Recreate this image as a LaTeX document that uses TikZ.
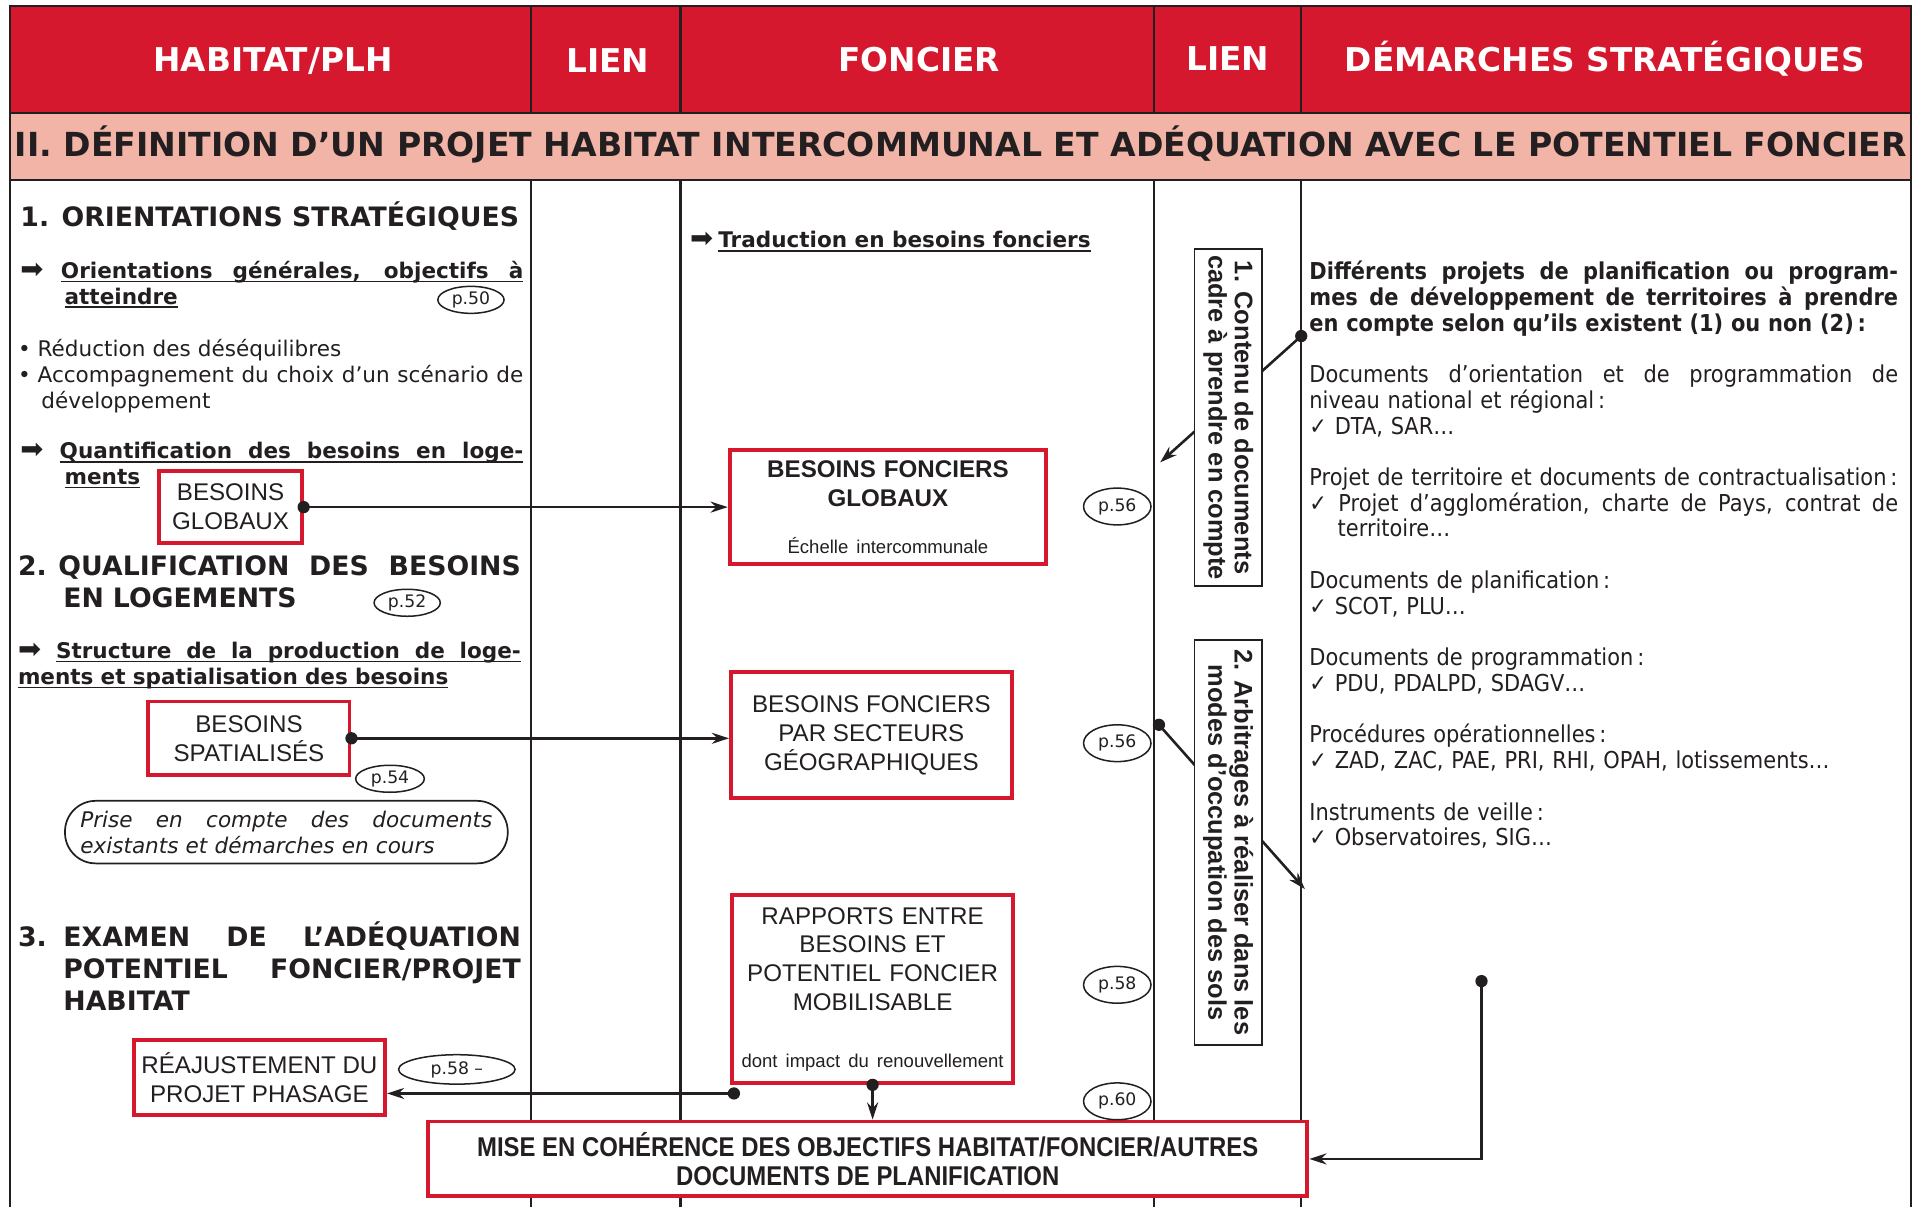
\documentclass[tikz,border=0pt]{standalone}
\usepackage{fontspec}
\usepackage{xcolor}
\usepackage{tikz}
\usetikzlibrary{arrows.meta,shapes.geometric}
\setmainfont{DejaVu Sans}
\newfontfamily\verdana{DejaVu Sans}
\newfontfamily\tahoma{DejaVu Sans}[FakeStretch=0.9]
\newfontfamily\arial{Liberation Sans}
\newfontfamily\arialnarrow{Liberation Sans}[FakeStretch=0.88]
\definecolor{HdRed}{HTML}{D6182E}
\definecolor{TitlePink}{HTML}{F1B4A7}
\definecolor{Ink}{HTML}{231F20}
\newcommand{\undl}[1]{\leavevmode\setbox0\hbox{#1}\rlap{\rule[-0.9pt]{\wd0}{0.4pt}}\box0}
\newcommand{\sline}[2]{\makebox[#1][s]{\spaceskip=0pt\xspaceskip=0pt #2}}
\newcommand{\arrowglyph}{{\verdana\mdseries\fontsize{6.4}{6}\selectfont ➡}}
\tikzset{
  frameline/.style={draw=Ink, line width=0.55pt},
  hdtext/.style={anchor=base, text=white, inner sep=0pt, font=\verdana\bfseries\fontsize{7.6}{9}\selectfont},
  bodytext/.style={anchor=base west, inner sep=0pt, text=Ink, align=left},
  redbox/.style={draw=HdRed, line width=0.9pt, fill=white, inner sep=0pt, align=center, text=Ink, font=\arial\fontsize{5.6}{6.7}\selectfont},
  pageoval/.style={draw=Ink, ellipse, line width=0.35pt, inner sep=0pt, text=Ink, font=\verdana\fontsize{4}{5}\selectfont},
  vertbox/.style={draw=Ink, line width=0.4pt, fill=white, rotate=-90, inner sep=0pt, align=center, text=Ink, font=\arial\bfseries\fontsize{5.9}{6.1}\selectfont},
  connector/.style={draw=Ink, line width=0.6pt},
  toarrow/.style={-{Stealth[length=0.14cm, width=0.09cm]}},
}

\begin{document}
\begin{tikzpicture}%
\useasboundingbox (0,0) rectangle (15.680000, 9.840000);%
% bands and frame
\fill[HdRed] (0.080000, 8.920000) rectangle (15.580000, 9.790000);%
\fill[TitlePink] (0.080000, 8.370000) rectangle (15.580000, 8.920000);%
\draw[frameline] (0.080000, 0.000000) -- (0.080000, 9.790000) -- (15.580000, 9.790000) -- (15.580000, 0.000000);%
\draw[frameline] (0.080000, 8.920000) -- (15.580000, 8.920000);%
\draw[frameline] (0.080000, 8.370000) -- (15.580000, 8.370000);%
\draw[frameline] (4.330000, 8.920000) -- (4.330000, 9.790000);%
\draw[frameline] (5.550000, 8.920000) -- (5.550000, 9.790000);%
\draw[frameline] (9.410000, 8.920000) -- (9.410000, 9.790000);%
\draw[frameline] (10.610000, 8.920000) -- (10.610000, 9.790000);%
\draw[frameline] (4.330000, 0.000000) -- (4.330000, 8.370000);%
\draw[frameline] (5.550000, 0.000000) -- (5.550000, 8.370000);%
\draw[frameline] (9.410000, 0.000000) -- (9.410000, 8.370000);%
\draw[frameline] (10.610000, 0.000000) -- (10.610000, 8.370000);%
% headers
\node[hdtext] (hdhabitat) at (2.225000, 9.260000) {HABITAT/PLH};%
\node[hdtext] (hdlienA) at (4.955000, 9.250000) {LIEN};%
\node[hdtext] (hdfoncier) at (7.495000, 9.260000) {FONCIER};%
\node[hdtext] (hdlienB) at (10.010000, 9.265000) {LIEN};%
\node[hdtext] (hddemarches) at (13.085000, 9.260000) {DÉMARCHES STRATÉGIQUES};%
\node[hdtext, text=Ink, font=\verdana\bfseries\fontsize{7.68}{9}\selectfont] (titre) at (7.835000, 8.560000) {II. DÉFINITION D’UN PROJET HABITAT INTERCOMMUNAL ET ADÉQUATION AVEC LE POTENTIEL FONCIER};%
% habitat column
\node[bodytext, font=\verdana\bfseries\fontsize{6.2}{7.4}\selectfont] (orient) at (0.160000, 7.990000) {1. ORIENTATIONS STRATÉGIQUES};%
\node[bodytext, text width=4.10cm, font=\verdana\bfseries\fontsize{5}{6}\selectfont] (objectifs) at (0.160000, 7.570000) {\makebox[0.33cm][l]{\arrowglyph}\undl{\sline{3.77cm}{Orientations générales, objectifs à}}\\\hspace*{0.36cm}\undl{atteindre}};%
\node[bodytext, text width=4.12cm, font=\verdana\fontsize{5}{6}\selectfont] (reduction) at (0.140000, 6.930000) {\makebox[0.16cm][l]{•}Réduction des déséquilibres\\\makebox[0.16cm][l]{•}\sline{3.96cm}{Accompagnement du choix d’un scénario de}\\\hspace*{0.19cm}développement};%
\node[bodytext, text width=4.10cm, font=\verdana\bfseries\fontsize{5}{6}\selectfont] (quantif) at (0.160000, 6.100000) {\makebox[0.32cm][l]{\arrowglyph}\undl{\sline{3.78cm}{Quantification des besoins en loge-}}\\\hspace*{0.36cm}\undl{ments}};%
\node[bodytext, text width=4.10cm, font=\verdana\bfseries\fontsize{6.2}{7.4}\selectfont] (qualif) at (0.140000, 5.150000) {\makebox[0.33cm][l]{2.}\sline{3.77cm}{QUALIFICATION DES BESOINS}\\\hspace*{0.37cm}EN LOGEMENTS};%
\node[bodytext, text width=4.10cm, font=\verdana\bfseries\fontsize{5}{6}\selectfont] (structure) at (0.140000, 4.470000) {\makebox[0.31cm][l]{\arrowglyph}\undl{\sline{3.79cm}{Structure de la production de loge-}}\\\undl{ments et spatialisation des besoins}};%
\node[draw=Ink, line width=0.4pt, rounded corners=0.25cm, minimum width=3.61cm, minimum height=0.51cm, inner xsep=0.125cm, inner ysep=0pt, text width=3.36cm, align=left, text=Ink, font=\verdana\itshape\fontsize{5}{6}\selectfont] (prise) at (2.335000, 3.055000) {\sline{3.36cm}{Prise en compte des documents}\\existants et démarches en cours};%
\node[bodytext, text width=4.10cm, font=\verdana\bfseries\fontsize{6.2}{7.4}\selectfont] (examen) at (0.140000, 2.120000) {\makebox[0.37cm][l]{3.}\sline{3.73cm}{EXAMEN DE L’ADÉQUATION}\\\hspace*{0.37cm}\sline{3.73cm}{POTENTIEL FONCIER/PROJET}\\\hspace*{0.37cm}HABITAT};%
\node[redbox, minimum width=1.16cm, minimum height=0.59cm] (globaux) at (1.880000, 5.705000) {BESOINS\\GLOBAUX};%
\node[redbox, minimum width=1.64cm, minimum height=0.60cm] (spatialises) at (2.030000, 3.820000) {BESOINS\\SPATIALISÉS};%
\node[redbox, minimum width=2.05cm, minimum height=0.61cm] (reajust) at (2.115000, 1.055000) {RÉAJUSTEMENT DU\\PROJET PHASAGE};%
\node[pageoval, minimum width=0.54cm, minimum height=0.22cm] (pfifty) at (3.840000, 7.395000) {p.50};%
\node[pageoval, minimum width=0.54cm, minimum height=0.22cm] (pfiftytwo) at (3.320000, 4.925000) {p.52};%
\node[pageoval, minimum width=0.56cm, minimum height=0.22cm] (pfiftyfour) at (3.180000, 3.490000) {p.54};%
\node[pageoval, minimum width=0.95cm, minimum height=0.24cm] (pfiftyeightL) at (3.725000, 1.120000) {p.58 –};%
% foncier column
\node[bodytext, font=\verdana\bfseries\fontsize{5}{6}\selectfont] (traduction) at (5.620000, 7.820000) {\makebox[0.23cm][l]{\arrowglyph}\undl{Traduction en besoins fonciers}};%
\node[redbox, text width=2.50cm, minimum width=2.58cm, minimum height=0.93cm] (fonciersglobaux) at (7.240000, 5.705000) {{\bfseries BESOINS FONCIERS\\GLOBAUX\par}\vspace{5.8pt}{\fontsize{4.3}{5}\selectfont Échelle intercommunale\par}};%
\node[redbox, minimum width=2.29cm, minimum height=1.03cm] (secteurs) at (7.105000, 3.845000) {BESOINS FONCIERS\\PAR SECTEURS\\GÉOGRAPHIQUES};%
\node[redbox, text width=2.20cm, minimum width=2.29cm, minimum height=1.53cm] (rapports) at (7.115000, 1.775000) {{RAPPORTS ENTRE\\BESOINS ET\\POTENTIEL FONCIER\\MOBILISABLE\par}\vspace{8.1pt}{\fontsize{4.3}{5}\selectfont dont impact du renouvellement\par}};%
\node[redbox, minimum width=7.17cm, minimum height=0.61cm, font=\arialnarrow\bfseries\fontsize{6.3}{6.6}\selectfont] (coherence) at (7.075000, 0.390000) {MISE EN COHÉRENCE DES OBJECTIFS HABITAT/FONCIER/AUTRES\\DOCUMENTS DE PLANIFICATION};%
\node[pageoval, minimum width=0.55cm, minimum height=0.30cm] (pfiftysixA) at (9.110000, 5.710000) {p.56};%
\node[pageoval, minimum width=0.55cm, minimum height=0.30cm] (pfiftysixB) at (9.110000, 3.780000) {p.56};%
\node[pageoval, minimum width=0.55cm, minimum height=0.30cm] (pfiftyeight) at (9.110000, 1.810000) {p.58};%
\node[pageoval, minimum width=0.55cm, minimum height=0.30cm] (psixty) at (9.110000, 0.860000) {p.60};%
% habitat <-> foncier links
\draw[connector, toarrow] (globaux.east) -- (globaux.east -| fonciersglobaux.west);%
\fill[Ink] (globaux.east) circle (0.05cm);%
\draw[connector, toarrow] (spatialises.east) -- (spatialises.east -| secteurs.west);%
\fill[Ink] (spatialises.east) circle (0.05cm);%
\coordinate (reajustDot) at ([shift={(0.03,-0.07)}]rapports.south west);%
\draw[connector, toarrow] (reajustDot) -- (reajustDot -| reajust.east);%
\fill[Ink] (reajustDot) circle (0.05cm);%
\draw[connector, toarrow] (rapports.south) -- (rapports.south |- coherence.north);%
\fill[Ink] (rapports.south) circle (0.05cm);%
% lien column
\coordinate (cadreIn) at (10.610000, 7.100000);%
\coordinate (cadreOut) at (9.460000, 6.070000);%
\draw[connector, toarrow] (cadreIn) -- (cadreOut);%
\fill[Ink] (cadreIn) circle (0.05cm);%
\coordinate (arbitrIn) at (9.450000, 3.930000);%
\coordinate (arbitrOut) at (10.640000, 2.590000);%
\draw[connector, toarrow] (arbitrIn) -- (arbitrOut);%
\fill[Ink] (arbitrIn) circle (0.05cm);%
\node[vertbox, minimum width=2.75cm, minimum height=0.55cm] (cadre) at (10.015000, 6.435000) {1. Contenu de documents\\cadre à prendre en compte};%
\node[vertbox, minimum width=3.30cm, minimum height=0.55cm] (arbitrages) at (10.015000, 2.970000) {2. Arbitrages à réaliser dans les\\modes d’occupation des sols};%
% demarches column
\node[bodytext, text width=4.80cm, font=\tahoma\fontsize{5.4}{5.97}\selectfont] (demarches) at (10.670000, 7.560000) {{\bfseries\sline{4.80cm}{Différents projets de planification ou program-}\\\sline{4.80cm}{mes de développement de territoires à prendre}\\en compte selon qu’ils existent (1) ou non (2)\,:}\\[0.21cm]%
\sline{4.80cm}{Documents d’orientation et de programmation de}\\niveau national et régional\,:\\✓ DTA, SAR…\\[0.21cm]%
Projet de territoire et documents de contractualisation\,:\\\sline{4.80cm}{✓ Projet d’agglomération, charte de Pays, contrat de}\\\hspace*{0.23cm}territoire…\\[0.21cm]%
Documents de planification\,:\\✓ SCOT, PLU…\\[0.21cm]%
Documents de programmation\,:\\✓ PDU, PDALPD, SDAGV…\\[0.21cm]%
Procédures opérationnelles\,:\\✓ ZAD, ZAC, PAE, PRI, RHI, OPAH, lotissements…\\[0.21cm]%
Instruments de veille\,:\\✓ Observatoires, SIG…};%
\coordinate (veilleDot) at (12.080000, 1.840000);%
\draw[connector, toarrow] (veilleDot) |- (coherence.east);%
\fill[Ink] (veilleDot) circle (0.05cm);%
\end{tikzpicture}
\end{document}
